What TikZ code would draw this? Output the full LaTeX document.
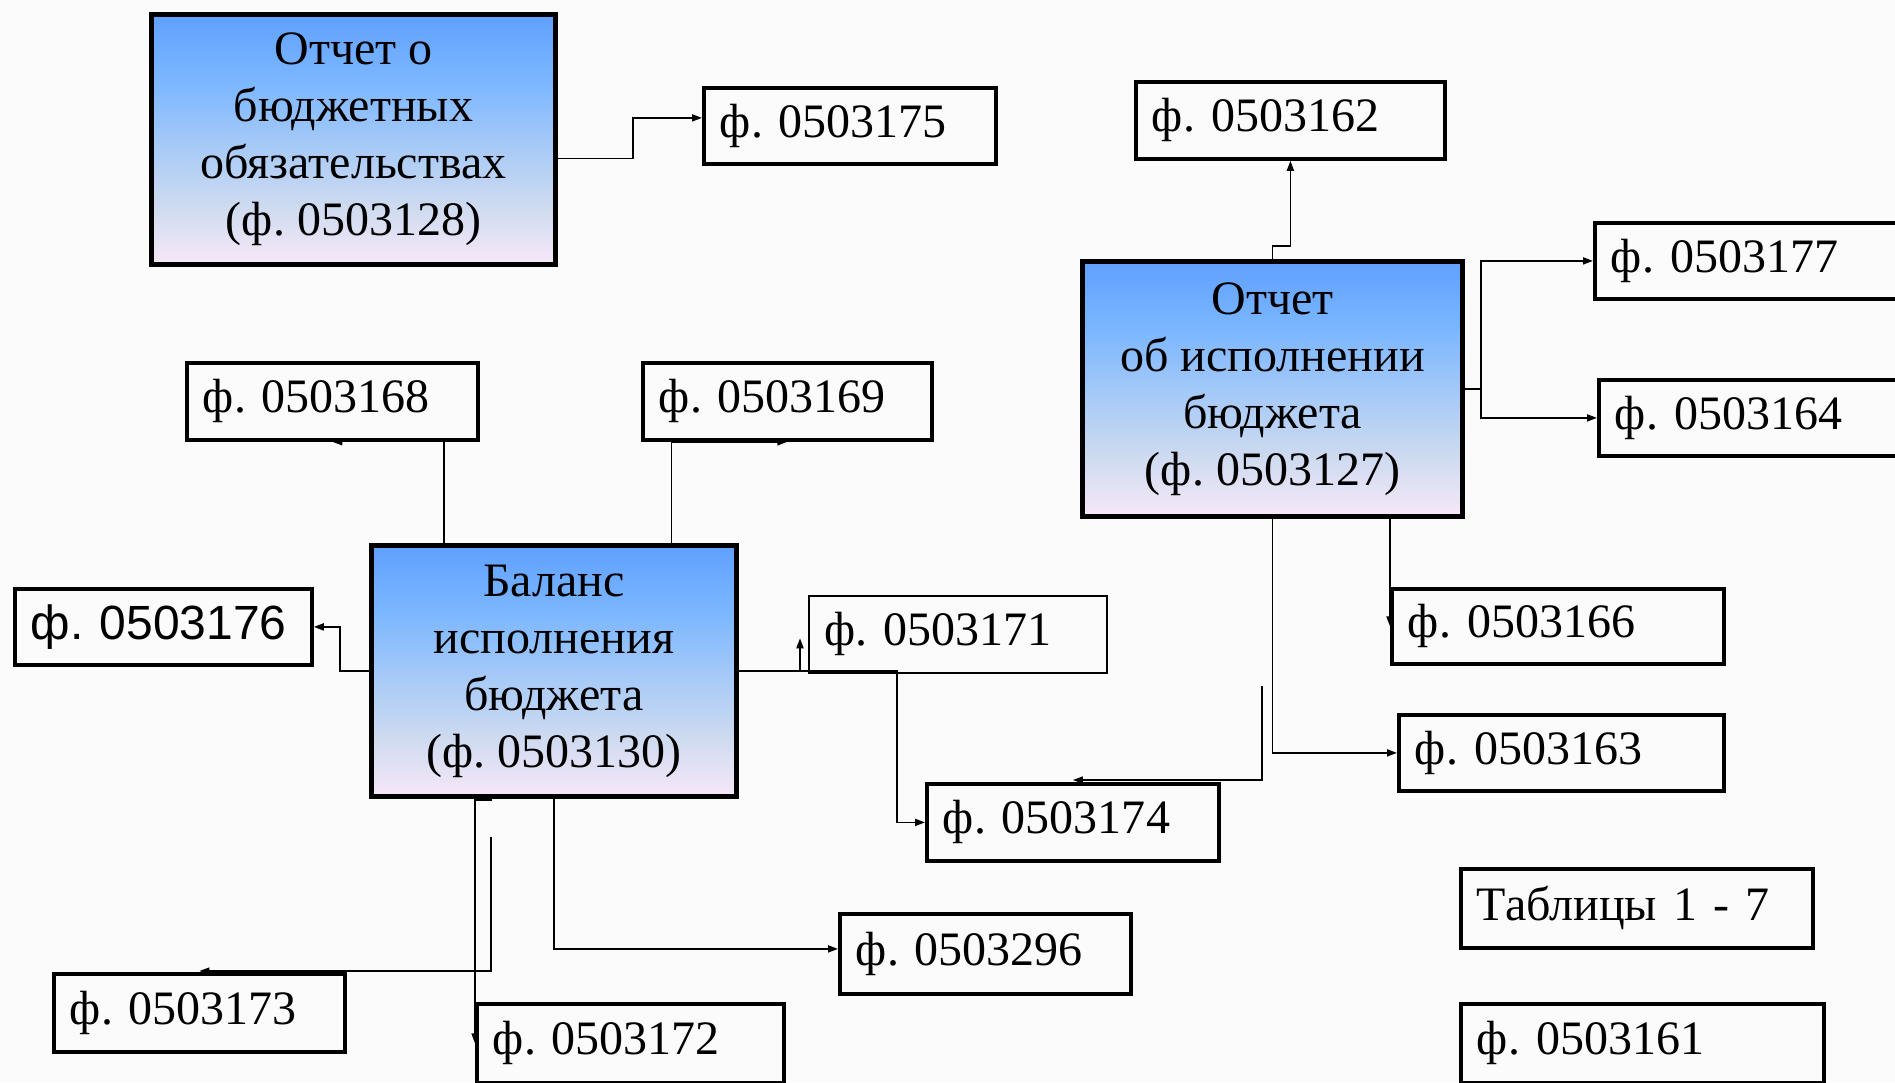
\documentclass[tikz,border=0pt]{standalone}
\usepackage{fontspec}
\setmainfont{Liberation Serif}
\newfontfamily\sansf{Liberation Sans}
\frenchspacing
\usetikzlibrary{arrows.meta}
\definecolor{bgc}{RGB}{251,251,251}
\definecolor{gtop}{RGB}{96,160,255}
\definecolor{gmA}{RGB}{122,182,255}
\definecolor{gmB}{RGB}{162,200,248}
\definecolor{gmC}{RGB}{205,218,240}
\definecolor{gbot}{RGB}{247,232,248}
\pgfdeclareverticalshading{boxgrad}{100bp}{color(0bp)=(gbot); color(25bp)=(gbot); color(37bp)=(gmC); color(50bp)=(gmB); color(62bp)=(gmA); color(75bp)=(gtop); color(100bp)=(gtop)}
\tikzset{
  bigbox/.style={draw, line width=5pt, shading=boxgrad, anchor=north west, inner sep=0pt, align=center, font=\frenchspacing\fontsize{48}{57}\selectfont},
  formbox/.style={draw, line width=3.8pt, anchor=north west, inner xsep=16pt, inner ysep=0pt, align=left, font=\frenchspacing\fontsize{48}{57}\selectfont},
  thinbox/.style={formbox, line width=1.5pt},
  conn/.style={line width=1.8pt},
  thinconn/.style={line width=1.3pt},
  arr/.style={-{Triangle[length=10pt,width=7pt]}}
}
\begin{document}
\begin{tikzpicture}[x=1pt,y=-1pt]
\useasboundingbox (0,0) rectangle (1895,1082);
\fill[bgc] (0,0) rectangle (1895,1082);

% main boxes
\node[bigbox, minimum width=404pt, minimum height=250pt] (A) at (149,12) {Отчет о\\бюджетных\\обязательствах\\(ф. 0503128)};
\node[bigbox, minimum width=380pt, minimum height=255pt] (B) at (1080,259) {Отчет\\об исполнении\\бюджета\\(ф. 0503127)};
\node[bigbox, minimum width=365pt, minimum height=251pt] (C) at (369,543) {Баланс\\исполнения\\бюджета\\(ф. 0503130)};

% form boxes
\node[formbox, minimum width=292pt, minimum height=76pt, text width=260pt] (f175) at (702,86) {ф. 0503175};
\node[formbox, minimum width=309pt, minimum height=77pt, text width=277pt] (f162) at (1134,80) {ф. 0503162};
\node[formbox, minimum width=320pt, minimum height=76pt, text width=288pt] (f177) at (1593,221) {ф. 0503177};
\node[formbox, minimum width=320pt, minimum height=76pt, text width=288pt] (f164) at (1597,378) {ф. 0503164};
\node[formbox, minimum width=291pt, minimum height=77pt, text width=259pt] (f168) at (185,361) {ф. 0503168};
\node[formbox, minimum width=289pt, minimum height=77pt, text width=257pt] (f169) at (641,361) {ф. 0503169};
\node[formbox, minimum width=297pt, minimum height=76pt, text width=265pt, font=\frenchspacing\sansf\fontsize{48}{56}\selectfont] (f176) at (13,587) {ф. 0503176};
\node[thinbox, minimum width=298pt, minimum height=77pt, text width=266pt] (f171) at (808,595) {ф. 0503171};
\node[formbox, minimum width=332pt, minimum height=75pt, text width=300pt] (f166) at (1390,587) {ф. 0503166};
\node[formbox, minimum width=325pt, minimum height=76pt, text width=293pt] (f163) at (1397,713) {ф. 0503163};
\node[formbox, minimum width=292pt, minimum height=77pt, text width=260pt] (f174) at (925,782) {ф. 0503174};
\node[formbox, minimum width=352pt, minimum height=79pt, text width=320pt] (tab) at (1459,867) {Таблицы 1 - 7};
\node[formbox, minimum width=291pt, minimum height=80pt, text width=259pt] (f296) at (838,912) {ф. 0503296};
\node[formbox, minimum width=291pt, minimum height=78pt, text width=259pt] (f173) at (52,972) {ф. 0503173};
\node[formbox, minimum width=307pt, minimum height=79pt, text width=275pt] (f172) at (475,1002) {ф. 0503172};
\node[formbox, minimum width=363pt, minimum height=79pt, text width=331pt] (f161) at (1459,1002) {ф. 0503161};

% free ends
\coordinate (free1) at (1262,686);
\coordinate (free2) at (491,837);
\coordinate (c171) at ([xshift=-8pt]f171.west |- C.east);

% connectors from A
\draw[conn,arr] ([yshift=-19pt]A.east) -- ++(75,0) |- ([yshift=8pt]f175.west);

% connectors from B
\draw[conn,arr] (B.north) -- ++(0,-13) -| (f162.south);
\draw[conn] (B.east) -- ++(16,0) coordinate (bj);
\draw[conn,arr] (bj) |- (f177.west);
\draw[conn,arr] (bj) |- (f164.west);
\draw[conn,arr] (B.south -| f166.west) -- (f166.west);
\draw[conn,arr] (B.south) |- (f163.west);
\draw[thinconn,arr] (free1) |- ([yshift=2pt]f174.north);

% connectors from C
\draw[thinconn,arr] ([xshift=-110pt]C.north) |- (f168.south);
\draw[conn,arr] ([xshift=117.5pt]C.north) |- (f169.south);
\draw[conn,arr] (C.west) -- ++(-29,0) |- (f176.east);
\draw[conn,arr] (C.east) -- ++(158,0) |- (f174.west);
\draw[conn,arr] (c171) -- ([xshift=-8pt,yshift=-4pt]f171.west);
\draw[thinconn,arr] (C.south -| f172.west) -- (f172.west);
\draw[line width=3pt] (C.south -| f172.west) -- ++(17,0);
\draw[conn,arr] (C.south) |- ([yshift=5pt]f296.west);
\draw[thinconn,arr] (free2) |- ([yshift=1pt]f173.north);
\end{tikzpicture}
\end{document}
